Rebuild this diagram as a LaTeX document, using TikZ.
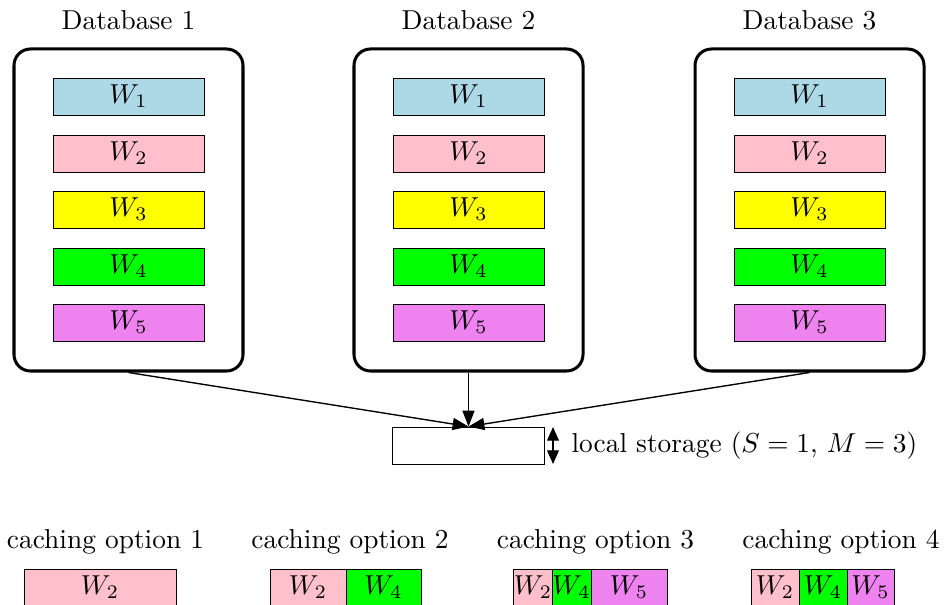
\documentclass[tikz,border=0pt]{standalone}
\usetikzlibrary{arrows.meta}
\definecolor{cW1}{RGB}{173,216,230}
\definecolor{cW2}{RGB}{255,192,203}
\definecolor{cW3}{RGB}{255,255,0}
\definecolor{cW4}{RGB}{0,255,0}
\definecolor{cW5}{RGB}{238,130,238}
\def\uu{0.365pt}
\begin{document}
\begin{tikzpicture}[x=\uu,y=-\uu,
  dbbox/.style={draw,line width=1.1pt,rounded corners=6pt,minimum width=229*\uu,minimum height=322*\uu,inner sep=0pt},
  item/.style={draw,line width=0.35pt,minimum width=151*\uu,minimum height=37*\uu,inner sep=0pt},
  cell/.style={draw,line width=0.35pt,minimum height=37*\uu,inner sep=0pt},
  conn/.style={line width=0.5pt,-{Triangle[length=5.8pt,width=4.4pt]}},
  dbl/.style={line width=0.5pt,{Triangle[length=5pt,width=4.3pt]}-{Triangle[length=5pt,width=4.3pt]}}]
\useasboundingbox[clip] (0,0) rectangle (945,605);
% databases
\foreach \i/\x in {1/128.5,2/468.5,3/809.5}{
  \node (t\i) at (\x,20) {Database \i};
  \node[dbbox] (db\i) at (\x,210) {};
  \node[item,fill=cW1] (d\i w1) at (\x,96.5) {$W_1$};
  \node[item,fill=cW2] (d\i w2) at (\x,153.5) {$W_2$};
  \node[item,fill=cW3] (d\i w3) at (\x,209.5) {$W_3$};
  \node[item,fill=cW4] (d\i w4) at (\x,266.5) {$W_4$};
  \node[item,fill=cW5] (d\i w5) at (\x,322.5) {$W_5$};
}
% local storage
\node[draw,line width=0.35pt,minimum width=152*\uu,minimum height=37*\uu,inner sep=0pt] (ls) at (468.5,445.5) {};
\draw[conn] (db1.south) -- (ls.north);
\draw[conn] (db2.south) -- (ls.north);
\draw[conn] (db3.south) -- (ls.north);
\coordinate (la) at (553,427);
\coordinate (lb) at (553,464);
\draw[dbl] (la) -- (lb);
\node[anchor=west,inner sep=0pt] (lsl) at (571,446) {local storage ($S=1$, $M=3$)};
% caching options
\node (c1) at (105.5,542) {caching option 1};
\node (c2) at (350,542) {caching option 2};
\node (c3) at (595.5,542) {caching option 3};
\node (c4) at (841,542) {caching option 4};
\node[cell,fill=cW2,minimum width=152*\uu] (o1a) at (100,587.5) {$W_2$};
\node[cell,fill=cW2,minimum width=76*\uu] (o2a) at (308,587.5) {$W_2$};
\node[cell,fill=cW4,minimum width=75*\uu] (o2b) at (383.5,587.5) {$W_4$};
\node[cell,fill=cW2,minimum width=38*\uu] (o3a) at (533,587.5) {$W_2$};
\node[cell,fill=cW4,minimum width=39*\uu] (o3b) at (571.5,587.5) {$W_4$};
\node[cell,fill=cW5,minimum width=76*\uu] (o3c) at (629,587.5) {$W_5$};
\node[cell,fill=cW2,minimum width=48*\uu] (o4a) at (775,587.5) {$W_2$};
\node[cell,fill=cW4,minimum width=48*\uu] (o4b) at (823,587.5) {$W_4$};
\node[cell,fill=cW5,minimum width=47*\uu] (o4c) at (870.5,587.5) {$W_5$};
\end{tikzpicture}
\end{document}
